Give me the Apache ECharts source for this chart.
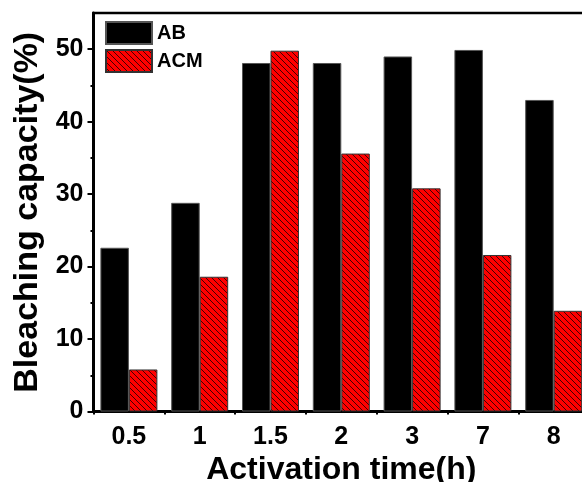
<!DOCTYPE html>
<html>
<head>
<meta charset="utf-8">
<script src="https://cdn.jsdelivr.net/npm/echarts@6/dist/echarts.min.js"></script>
<style>
html,body{margin:0;padding:0;background:#fff;}
#chart{width:582px;height:482px;}
</style>
</head>
<body>
<div id="chart"></div>
<script>
const categories = ['0.5', '1', '1.5', '2', '3', '7', '8'];
const abValues = [22.6, 28.8, 48.1, 48.1, 49.0, 49.9, 43.0];
const acmValues = [5.8, 18.6, 49.8, 35.6, 30.8, 21.6, 13.9];
const yMajorTicks = [0, 10, 20, 30, 40, 50];
const yMinorTicks = [5, 15, 25, 35, 45];

// hatch pattern for ACM: crisp 1px "\" diagonals every 6px
const tile = document.createElement('canvas');
tile.width = 6; tile.height = 6;
const tctx = tile.getContext('2d');
tctx.fillStyle = '#ff0000';
tctx.fillRect(0, 0, 6, 6);
tctx.fillStyle = '#440000';
for (let i = 0; i < 6; i++) tctx.fillRect(i, i, 1, 1);

const font = 'Liberation Sans, Arial, sans-serif';
const chart = echarts.init(document.getElementById('chart'), null, {renderer: 'canvas'});
chart.setOption({
  backgroundColor: '#fff',
  animation: false,
  grid: {
    left: 93.5, top: 13, bottom: 70.5, width: 495.6,
    containLabel: false, outerBoundsMode: 'none',
    show: true, borderColor: '#000', borderWidth: 2.5, backgroundColor: 'transparent'
  },
  legend: {
    left: 105, top: 21, padding: 0, orient: 'vertical',
    itemWidth: 46, itemHeight: 22, itemGap: 4,
    icon: 'rect',
    textStyle: {fontFamily: font, fontWeight: 'bold', fontSize: 20, color: '#000'},
    data: ['AB', 'ACM']
  },
  xAxis: [
    {
      type: 'category', data: categories, position: 'bottom',
      name: 'Activation time(h)', nameLocation: 'middle', nameGap: 36,
      nameTextStyle: {fontFamily: font, fontWeight: 'bold', fontSize: 32, color: '#000'},
      axisLine: {lineStyle: {color: '#000', width: 3}},
      axisTick: {alignWithLabel: true, length: 5, lineStyle: {color: '#000', width: 2}},
      axisLabel: {fontFamily: font, fontWeight: 'bold', fontSize: 25, color: '#000', margin: 13},
      splitLine: {show: false}
    },
    {
      type: 'category', data: categories, position: 'bottom',
      axisLine: {show: false},
      axisTick: {show: true, length: 3, lineStyle: {color: '#000', width: 2}},
      axisLabel: {show: false},
      splitLine: {show: false}
    }
  ],
  yAxis: [
    {
      type: 'value', min: 0, max: 55, interval: 10, position: 'left',
      name: 'Bleaching capacity(%)', nameLocation: 'middle', nameGap: 46,
      nameTextStyle: {fontFamily: font, fontWeight: 'bold', fontSize: 34, color: '#000'},
      axisLine: {show: true, lineStyle: {color: '#000', width: 3}},
      axisTick: {show: true, length: 6, customValues: yMajorTicks, lineStyle: {color: '#000', width: 2}},
      axisLabel: {fontFamily: font, fontWeight: 'bold', fontSize: 25, color: '#000', margin: 10, customValues: yMajorTicks},
      splitLine: {show: false}
    },
    {
      type: 'value', min: 0, max: 55, position: 'left',
      axisLine: {show: false},
      axisTick: {show: true, length: 3, customValues: yMinorTicks, lineStyle: {color: '#000', width: 2}},
      axisLabel: {show: false},
      splitLine: {show: false}
    }
  ],
  series: [
    {
      name: 'AB', type: 'bar', data: abValues,
      barGap: '0%', barCategoryGap: '19.5%',
      itemStyle: {color: '#000', borderColor: '#555', borderWidth: 1}
    },
    {
      name: 'ACM', type: 'bar', data: acmValues,
      barGap: '0%', barCategoryGap: '19.5%',
      itemStyle: {color: {image: tile, repeat: 'repeat'}, borderColor: '#333', borderWidth: 1}
    }
  ]
});
</script>
</body>
</html>
